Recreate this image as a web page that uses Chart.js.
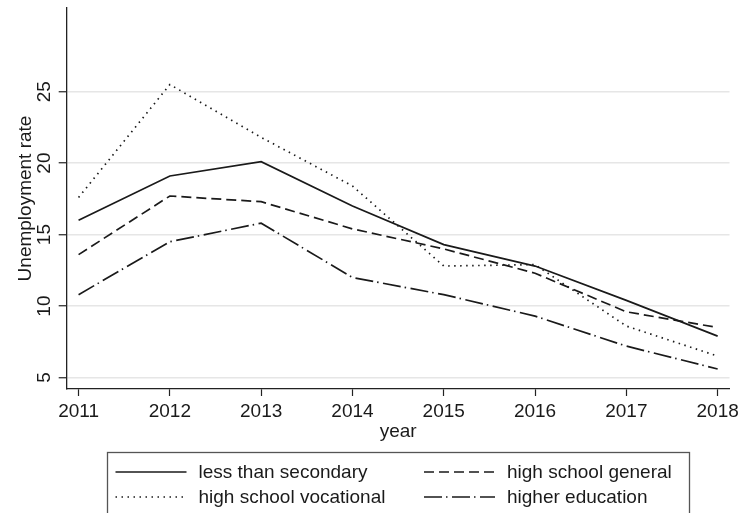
<!DOCTYPE html>
<html>
<head>
<meta charset="utf-8">
<script src="https://cdn.jsdelivr.net/npm/chart.js@4/dist/chart.umd.min.js"></script>
<style>
  html, body { margin: 0; padding: 0; background: #ffffff; }
  #wrap { width: 743px; height: 513px; overflow: hidden; }
</style>
</head>
<body>
<div id="wrap"><canvas id="chart" width="743" height="513"></canvas></div>
<script>
// Unemployment rate (%) by education level, 2011-2018
const years = [2011, 2012, 2013, 2014, 2015, 2016, 2017, 2018];
const lessThanSecondary = [16.0, 19.1, 20.1, 17.0, 14.3, 12.8, 10.4, 7.9];
const highSchoolGeneral = [13.6, 17.7, 17.3, 15.4, 14.0, 12.3, 9.6, 8.5];
const highSchoolVocational = [17.6, 25.5, 21.8, 18.4, 12.8, 12.9, 8.6, 6.5];
const higherEducation = [10.8, 14.5, 15.8, 12.0, 10.8, 9.3, 7.2, 5.6];
const seriesNames = ['less than secondary', 'high school general', 'high school vocational', 'higher education'];
const yTickValues = [5, 10, 15, 20, 25];

const FONT = '"Liberation Sans", Arial, Helvetica, sans-serif';
const INK = '#1a1a1a';

function points(values) {
  return years.map((yr, i) => ({ x: yr, y: values[i] }));
}

const seriesValues = [lessThanSecondary, highSchoolGeneral, highSchoolVocational, higherEducation];
const seriesDash = [[], [10, 5], [1.5, 4.5], [18, 4, 1.5, 4.5]];

const datasets = seriesNames.map((name, i) => ({
  label: name,
  data: points(seriesValues[i]),
  borderColor: INK,
  backgroundColor: INK,
  borderWidth: 1.7,
  borderDash: seriesDash[i],
  pointRadius: 0,
  pointHoverRadius: 0,
  tension: 0,
  fill: false
}));

// Framed two-column legend drawn under the plot
const boxedLegend = {
  id: 'boxedLegend',
  afterDraw(chart, args, o) {
    const ctx = chart.ctx;
    ctx.save();
    ctx.strokeStyle = '#555555';
    ctx.lineWidth = 1.3;
    ctx.strokeRect(o.left, o.top, o.right - o.left, o.height);
    ctx.font = '19px ' + FONT;
    ctx.textBaseline = 'middle';
    ctx.textAlign = 'left';
    chart.data.datasets.forEach((ds, i) => {
      const col = i % 2, row = Math.floor(i / 2);
      const x0 = o.columns[col];
      const y = o.rows[row];
      ctx.strokeStyle = ds.borderColor;
      ctx.lineWidth = ds.borderWidth;
      ctx.setLineDash(ds.borderDash);
      ctx.beginPath();
      ctx.moveTo(x0, y);
      ctx.lineTo(x0 + o.sample, y);
      ctx.stroke();
      ctx.setLineDash([]);
      ctx.fillStyle = INK;
      ctx.fillText(ds.label, x0 + o.sample + o.gap, y + 1);
    });
    ctx.restore();
  }
};

new Chart(document.getElementById('chart'), {
  type: 'line',
  data: { datasets },
  plugins: [boxedLegend],
  options: {
    responsive: false,
    animation: false,
    devicePixelRatio: 1,
    layout: { padding: { top: 8, right: 12, left: 0, bottom: 68 } },
    plugins: {
      legend: { display: false },
      tooltip: { enabled: false },
      boxedLegend: {
        left: 107.5, right: 689.5, top: 452.5, height: 80,
        columns: [115.5, 424], rows: [472, 497], sample: 71, gap: 12
      }
    },
    scales: {
      x: {
        type: 'linear',
        min: 2010.87,
        max: 2018.13,
        afterBuildTicks: s => { s.ticks = years.map(v => ({ value: v })); },
        afterFit: s => { s.height = 56; },
        ticks: {
          autoSkip: false,
          maxRotation: 0,
          padding: 4,
          color: INK,
          font: { family: FONT, size: 19 },
          callback: v => String(v)
        },
        grid: { drawOnChartArea: false, drawTicks: true, tickLength: 7, tickColor: '#222', tickWidth: 1.2 },
        border: { color: '#222', width: 1.3 },
        title: {
          display: true,
          text: 'year',
          color: INK,
          font: { family: FONT, size: 19 },
          padding: { top: 0, bottom: 2 }
        }
      },
      y: {
        min: 4.2,
        max: 30.85,
        afterBuildTicks: s => { s.ticks = yTickValues.map(v => ({ value: v })); },
        afterFit: s => { s.width = 66.7; s.paddingTop = 0; s.paddingBottom = 0; },
        ticks: {
          autoSkip: false,
          minRotation: 90,
          maxRotation: 90,
          crossAlign: 'center',
          padding: 3,
          color: INK,
          font: { family: FONT, size: 19 }
        },
        grid: { color: '#e6e6e6', lineWidth: 1.5, drawTicks: true, tickLength: 8, tickColor: '#222', tickWidth: 1.2 },
        border: { color: '#222', width: 1.3 },
        title: {
          display: true,
          text: 'Unemployment rate',
          color: INK,
          font: { family: FONT, size: 19 },
          padding: { top: 14, bottom: 0 }
        }
      }
    }
  }
});
</script>
</body>
</html>
